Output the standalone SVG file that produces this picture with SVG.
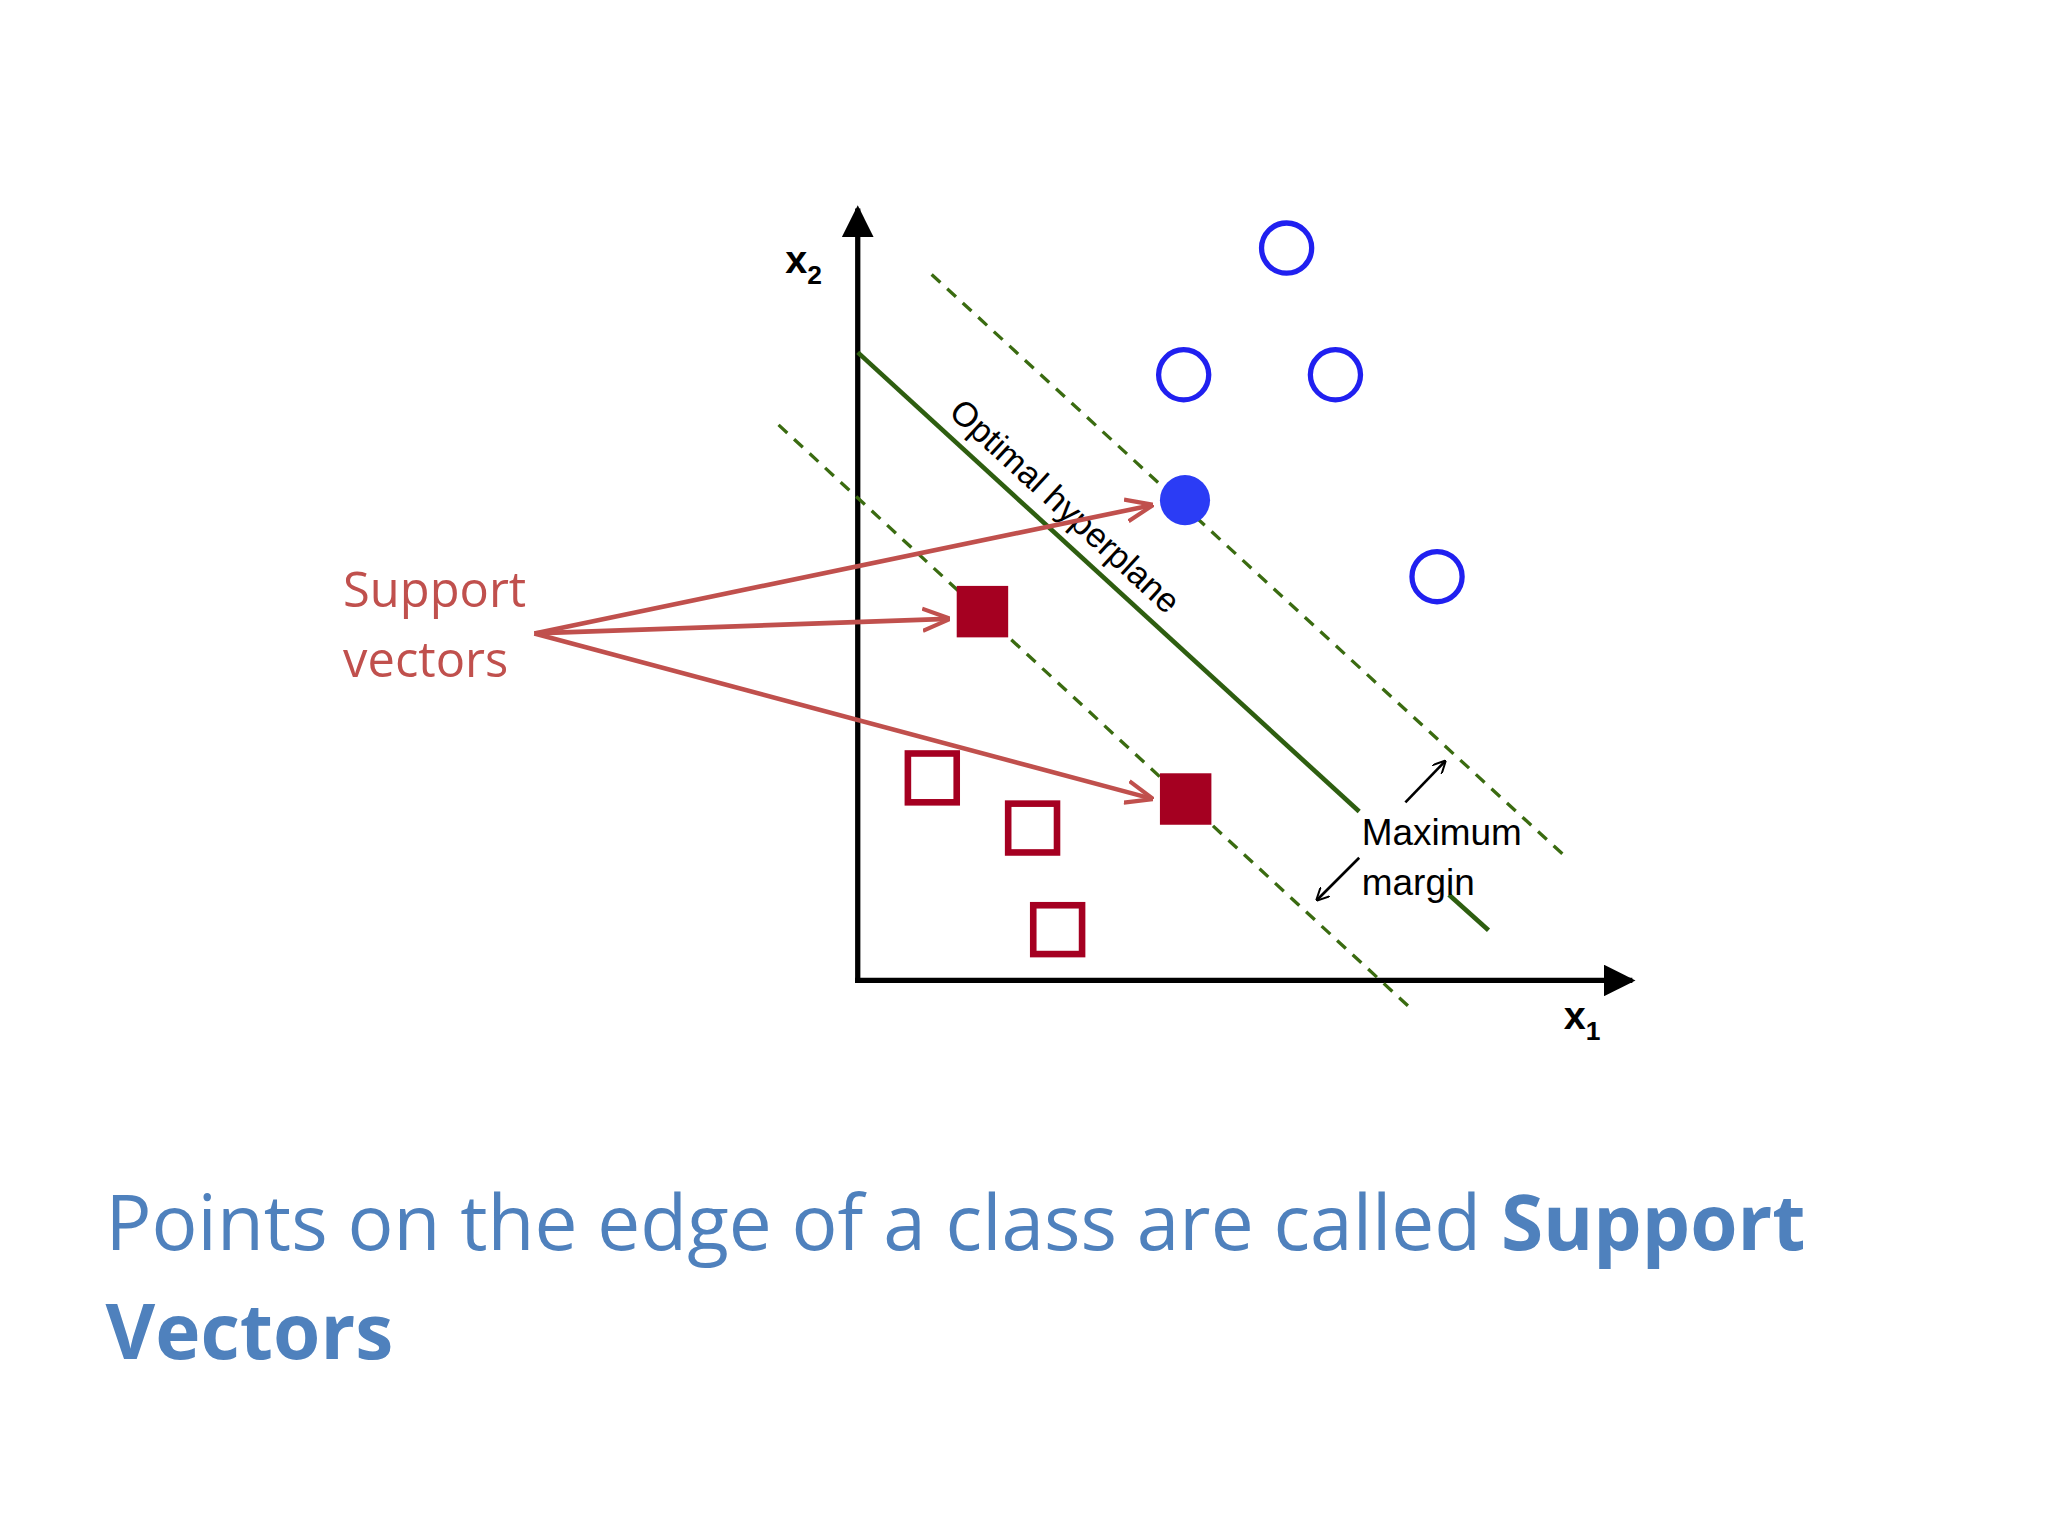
<svg xmlns="http://www.w3.org/2000/svg" width="2048" height="1536" viewBox="0 0 2048 1536">
<defs>
<marker id="ab" viewBox="0 0 10 10" refX="9" refY="5" markerWidth="6" markerHeight="6" orient="auto"><path d="M0,0L10,5L0,10z" fill="#000"/></marker>
<marker id="as" viewBox="0 0 10 10" refX="9" refY="5" markerWidth="10" markerHeight="10" orient="auto" markerUnits="userSpaceOnUse"><path d="M0,0L10,5L0,10" fill="none" stroke="#000" stroke-width="1.5"/></marker>
<marker id="ar" viewBox="0 0 10 10" refX="9" refY="5" markerWidth="6" markerHeight="6" orient="auto"><path d="M0,1L10,5L0,9" fill="none" stroke="#c0504d" stroke-width="1.5"/></marker>
</defs>
<style>
.oc{fill:none;stroke:#2020f0;stroke-width:4}
.os{fill:#fff;stroke:#a50021;stroke-width:5}
.fs{fill:#a50021}
.dash{stroke:#3a6b10;stroke-width:2.5;stroke-dasharray:9,7}
.red{stroke:#c0504d;stroke-width:3.5;fill:none}
.t{font-family:"Liberation Sans",Arial,sans-serif}
</style>
<rect width="2048" height="1536" fill="#fff"/>
<g transform="scale(1.3196)">
<g id="axes" stroke="#000" stroke-width="4" fill="none">
<line x1="650" y1="745" x2="650" y2="158" marker-end="url(#ab)"/>
<line x1="648" y1="743" x2="1237" y2="743" marker-end="url(#ab)"/>
</g>
<text class="t" x="595" y="207" font-size="30" font-weight="bold">x<tspan font-size="20" dy="8">2</tspan></text>
<text class="t" x="1185" y="780" font-size="30" font-weight="bold">x<tspan font-size="20" dy="8">1</tspan></text>
<g id="lines">
<line x1="650" y1="267" x2="1030" y2="615" stroke="#2e5e10" stroke-width="3.5"/>
<line x1="1098" y1="678" x2="1128" y2="705" stroke="#2e5e10" stroke-width="3.5"/>
<line class="dash" x1="706" y1="208" x2="1185" y2="648"/>
<line class="dash" x1="590" y1="322" x2="1070" y2="765"/>
</g>
<text class="t" font-size="26" transform="translate(718,314) rotate(42.5)">Optimal hyperplane</text>
<g id="points">
<circle class="oc" cx="975" cy="188" r="19"/>
<circle class="oc" cx="897" cy="284" r="19"/>
<circle class="oc" cx="1012" cy="284" r="19"/>
<circle class="oc" cx="1089" cy="437" r="19"/>
<circle cx="898" cy="379" r="19" fill="#2b3cf5"/>
<rect class="fs" x="725" y="444" width="39" height="39"/>
<rect class="fs" x="879" y="586" width="39" height="39"/>
<rect class="os" x="688" y="571" width="37" height="37"/>
<rect class="os" x="764" y="609" width="37" height="37"/>
<rect class="os" x="783" y="686" width="37" height="37"/>
</g>
<g id="connectors">
<line class="red" x1="405" y1="480" x2="872" y2="383" marker-end="url(#ar)"/>
<line class="red" x1="405" y1="480" x2="718" y2="469" marker-end="url(#ar)"/>
<line class="red" x1="405" y1="480" x2="872" y2="605" marker-end="url(#ar)"/>
<line x1="1065" y1="608" x2="1095" y2="577" stroke="#000" stroke-width="2" marker-end="url(#as)"/>
<line x1="1030" y1="650" x2="998" y2="682" stroke="#000" stroke-width="2" marker-end="url(#as)"/>
</g>
<g id="labels">
<text class="t" x="1032" y="640" font-size="28">Maximum</text>
<text class="t" x="1032" y="678" font-size="28">margin</text>
<text x="260" y="460" font-size="37" fill="#c0504d" font-family="'Open Sans','Noto Sans',sans-serif">Support</text>
<text x="260" y="513" font-size="37" fill="#c0504d" font-family="'Open Sans','Noto Sans',sans-serif">vectors</text>
<text x="80" y="947" font-size="58" fill="#4f81bd" font-family="'Open Sans','Noto Sans',sans-serif">Points on the edge of a class are called <tspan font-weight="bold">Support</tspan></text>
<text x="80" y="1030" font-size="58" fill="#4f81bd" font-weight="bold" font-family="'Open Sans','Noto Sans',sans-serif">Vectors</text>
</g>
</g>
</svg>
